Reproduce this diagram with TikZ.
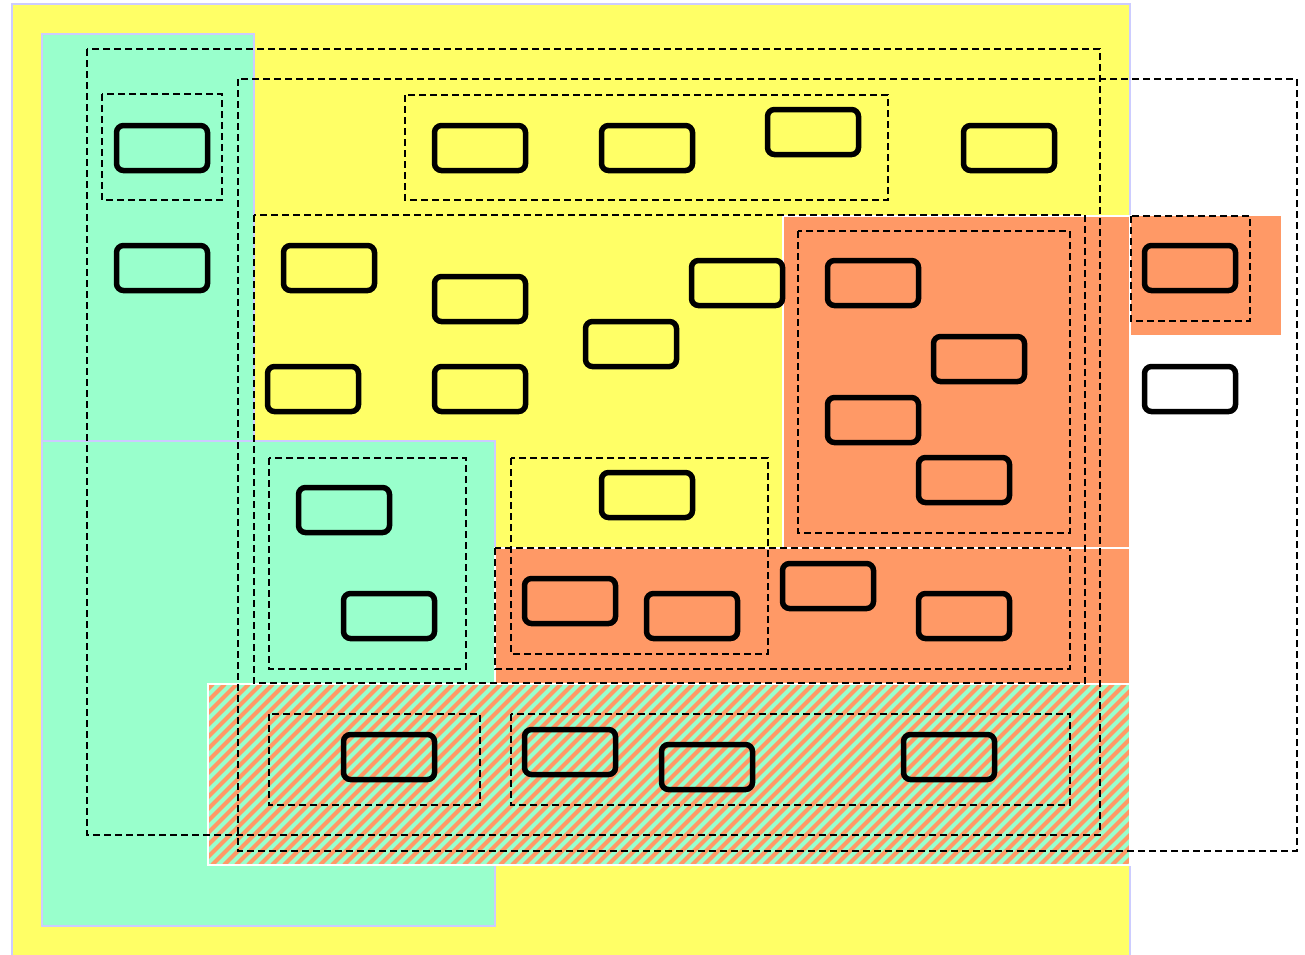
\documentclass[tikz,border=0pt]{standalone}
\definecolor{yel}{HTML}{FFFF66}
\definecolor{grn}{HTML}{99FFCC}
\definecolor{org}{HTML}{FF9966}
\definecolor{lav}{HTML}{CCCCFF}
\begin{document}
\begin{tikzpicture}[x=1pt,y=-1pt,
 region/.style={line width=1.5pt},
 grp/.style={draw=black,line width=1.8pt,dash pattern=on 7pt off 4pt},
 box/.style={draw=black,line width=5.5pt,rounded corners=7pt,minimum width=91pt,minimum height=45pt,inner sep=0pt}]
\clip (0,0) rectangle (1305,954);
\fill[white] (0,0) rectangle (1305,954);
% regions
\filldraw[fill=yel,draw=lav,region] (12,4) rectangle (1130,964);
\filldraw[fill=grn,draw=lav,region] (42,34) rectangle (254,441);
\filldraw[fill=grn,draw=lav,region] (42,441) rectangle (495,926);
\filldraw[fill=org,draw=white,region] (783,216) rectangle (1130,548);
\filldraw[fill=org,draw=white,region] (495,548) rectangle (1130,684);
\fill[org] (1131,216) rectangle (1281,335);
\begin{scope}
\clip (208,684) rectangle (1130,865);
\fill[grn] (208,684) rectangle (1130,865);
\foreach \x in {20,32,...,1140} \draw[org,line width=4pt] (\x,865) -- ++(181,-181);
\end{scope}
\draw[white,region] (208,684) rectangle (1130,865);
% groups
\draw[grp] (87,49) rectangle (1100,835);
\draw[grp] (238,79) rectangle (1297,851);
\draw[grp] (102,94) rectangle (222,200);
\draw[grp] (405,95) rectangle (888,200);
\draw[grp] (254,215) rectangle (1085,683);
\draw[grp] (798,231) rectangle (1070,533);
\draw[grp] (269,458) rectangle (466,669);
\draw[grp] (511,458) rectangle (768,654);
\draw[grp] (495,548) rectangle (1070,669);
\draw[grp] (269,714) rectangle (480,805);
\draw[grp] (511,714) rectangle (1070,805);
\draw[grp] (1131,216) rectangle (1250,321);
% nodes
\node[box] (n1) at (162,148) {};
\node[box] (n2) at (162,268) {};
\node[box] (n3) at (480,148) {};
\node[box] (n4) at (647,148) {};
\node[box] (n5) at (813,132) {};
\node[box] (n6) at (1009,148) {};
\node[box] (n7) at (329,268) {};
\node[box] (n8) at (480,299) {};
\node[box] (n9) at (631,344) {};
\node[box] (n10) at (737,283) {};
\node[box] (n11) at (313,389) {};
\node[box] (n12) at (480,389) {};
\node[box] (n13) at (873,283) {};
\node[box] (n14) at (979,359) {};
\node[box] (n15) at (873,420) {};
\node[box] (n16) at (964,480) {};
\node[box] (n17) at (1190,268) {};
\node[box] (n18) at (1190,389) {};
\node[box] (n19) at (344,510) {};
\node[box] (n20) at (389,616) {};
\node[box] (n21) at (647,495) {};
\node[box] (n22) at (570,601) {};
\node[box] (n23) at (692,616) {};
\node[box] (n24) at (828,586) {};
\node[box] (n25) at (964,616) {};
\node[box] (n26) at (389,757) {};
\node[box] (n27) at (570,752) {};
\node[box] (n28) at (707,767) {};
\node[box] (n29) at (949,757) {};
\end{tikzpicture}
\end{document}
